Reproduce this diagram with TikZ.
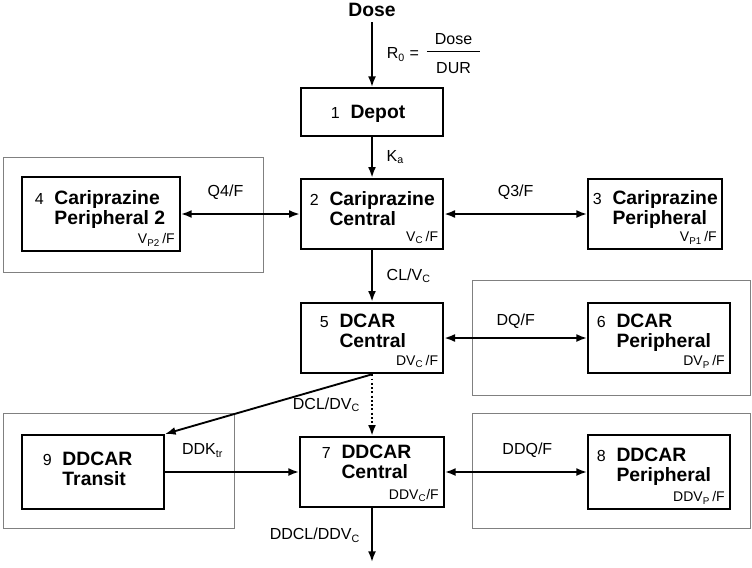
\documentclass[tikz,border=0pt]{standalone}
\usepackage{fontspec}
\setmainfont{Liberation Sans}
\usetikzlibrary{arrows.meta}
\tikzstyle{comp}=[draw, line width=1.5pt, inner sep=0pt]
\tikzstyle{title}=[inner sep=0pt, anchor=west, font=\fontsize{12}{14.5}\selectfont]
\tikzstyle{vol}=[anchor=south east, inner sep=4pt, font=\fontsize{10.5}{12}\selectfont]
\tikzstyle{group}=[draw=gray, line width=0.75pt]
\tikzstyle{lbl}=[font=\fontsize{12}{14.5}\selectfont]
\newcommand{\bname}[1]{{\fontsize{14.5}{14.5}\selectfont\bfseries #1}}

\begin{document}
\begin{tikzpicture}[x=0.75pt, y=-0.75pt, line width=1.4pt, >={Latex[length=8pt,width=6pt]}]
\useasboundingbox (0, 0) rectangle (752, 567);
% groups
\draw[group] (3, 157) rectangle (263, 272);
\draw[group] (472, 280) rectangle (750, 395);
\draw[group] (3, 413) rectangle (234, 528);
\draw[group] (472, 413) rectangle (750, 528);
% compartments
\node[comp, minimum width=107pt, minimum height=36pt] at (372, 112) (depot) {};
\node[comp, minimum width=107pt, minimum height=53pt] at (372, 214) (cent) {};
\node[comp, minimum width=118.5pt, minimum height=56pt] at (101, 214) (per2) {};
\node[comp, minimum width=100.5pt, minimum height=53pt] at (655, 214) (per1) {};
\node[comp, minimum width=107pt, minimum height=53pt] at (372, 338) (dcar) {};
\node[comp, minimum width=106.5pt, minimum height=53pt] at (659, 338) (dper) {};
\node[comp, minimum width=106.5pt, minimum height=55.5pt] at (93, 472) (transit) {};
\node[comp, minimum width=108pt, minimum height=53pt] at (372, 472) (ddcar) {};
\node[comp, minimum width=106.5pt, minimum height=56pt] at (659, 472) (ddper) {};
% names
\node[title] at (330, 114) (depot-t) {1\hspace{8pt}\bname{Depot}};
\node[title] at (309, 211) (cent-t) {\begin{tabular}{@{}l@{\hspace{8pt}}l@{}}2 & \bname{Cariprazine}\\ & \bname{Central}\end{tabular}};
\node[title] at (34, 210.5) (per2-t) {\begin{tabular}{@{}l@{\hspace{8pt}}l@{}}4 & \bname{Cariprazine}\\ & \bname{Peripheral 2}\end{tabular}};
\node[title] at (592, 210.5) (per1-t) {\begin{tabular}{@{}l@{\hspace{8pt}}l@{}}3 & \bname{Cariprazine}\\ & \bname{Peripheral}\end{tabular}};
\node[title] at (319, 334) (dcar-t) {\begin{tabular}{@{}l@{\hspace{8pt}}l@{}}5 & \bname{DCAR}\\ & \bname{Central}\end{tabular}};
\node[title] at (596, 334) (dper-t) {\begin{tabular}{@{}l@{\hspace{8pt}}l@{}}6 & \bname{DCAR}\\ & \bname{Peripheral}\end{tabular}};
\node[title] at (42, 471.5) (transit-t) {\begin{tabular}{@{}l@{\hspace{8pt}}l@{}}9 & \bname{DDCAR}\\ & \bname{Transit}\end{tabular}};
\node[title] at (321, 465) (ddcar-t) {\begin{tabular}{@{}l@{\hspace{8pt}}l@{}}7 & \bname{DDCAR}\\ & \bname{Central}\end{tabular}};
\node[title] at (596, 467.5) (ddper-t) {\begin{tabular}{@{}l@{\hspace{8pt}}l@{}}8 & \bname{DDCAR}\\ & \bname{Peripheral}\end{tabular}};
% volumes
\node[vol] at (cent.south east) (cent-v) {V\textsubscript{C}\,/F};
\node[vol] at (per2.south east) (per2-v) {V\textsubscript{P2}\,/F};
\node[vol] at (per1.south east) (per1-v) {V\textsubscript{P1}\,/F};
\node[vol] at (dcar.south east) (dcar-v) {DV\textsubscript{C}\,/F};
\node[vol] at (dper.south east) (dper-v) {DV\textsubscript{P}\,/F};
\node[vol] at (ddcar.south east) (ddcar-v) {DDV\textsubscript{C}/F};
\node[vol] at (ddper.south east) (ddper-v) {DDV\textsubscript{P}\,/F};
% dosing
\node[font=\fontsize{14.5}{16}\selectfont\bfseries] at (372, 10) (dose) {Dose};
\node[lbl, anchor=west, inner sep=0pt] at (386, 55) (rate) {R\textsubscript{0} =\hspace{6pt}\begin{tabular}{@{\hspace{6pt}}c@{\hspace{6pt}}}Dose\\[1pt]\hline\rule{0pt}{16pt}DUR\end{tabular}};
% flows
\draw[->] (dose) -- (depot);
\draw[->] (depot) -- node[lbl, right=7pt] (ka) {K\textsubscript{a}} (cent);
\draw[<->] (per2) -- node[lbl, above=7pt, pos=0.375] (q4) {Q4/F} (cent);
\draw[<->] (cent) -- node[lbl, above=7pt] (q3) {Q3/F} (per1);
\draw[->] (cent) -- node[lbl, right=7pt] (cl) {CL/V\textsubscript{C}} (dcar);
\draw[<->] (dcar) -- node[lbl, above=3pt] (dq) {DQ/F} (dper);
\draw[->] (dcar.south) -- (transit.north east);
\draw[->, dash pattern=on 1.4pt off 1.8pt] (dcar) -- node[lbl, left=5pt] (dcl) {DCL/DV\textsubscript{C}} (ddcar);
\draw[->] (transit) -- node[lbl, above=7pt, pos=0.28] (ktr) {DDK\textsubscript{tr}} (ddcar);
\draw[<->] (ddcar) -- node[lbl, above=7pt, pos=0.58] (ddq) {DDQ/F} (ddper);
\coordinate (out) at (372, 562);
\draw[->] (ddcar) -- node[lbl, left=5pt] (ddcl) {DDCL/DDV\textsubscript{C}} (out);
\end{tikzpicture}
\end{document}
